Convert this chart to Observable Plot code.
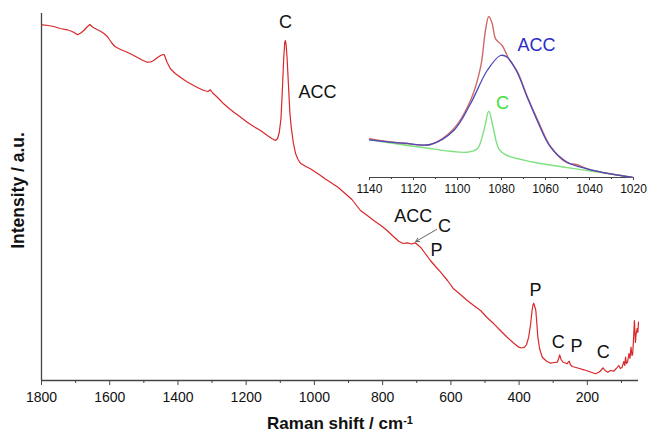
<!DOCTYPE html>
<html><head><meta charset="utf-8">
<script src="https://cdn.jsdelivr.net/npm/d3@7"></script>
<script src="https://cdn.jsdelivr.net/npm/@observablehq/plot@0.6"></script>
<style>
body{margin:0;background:#fff;}
#wrap{position:relative;width:649px;height:434px;font-family:"Liberation Sans",Arial,sans-serif;}
#wrap svg{position:absolute;left:0;top:0;}
</style></head><body><div id="wrap"></div>
<script>
// Main spectrum (Raman shift, cm-1) and intensity (a.u.)
const mainShift = [1798,1780,1764,1745,1725,1710,1700,1694,1685,1676,1665,1658,1652,1647,1637,1627,1617,1607,1595,1585,1578,1565,1549,1535,1520,1505,1490,1480,1471,1460,1451,1444,1440,1435,1432,1422,1408,1393,1375,1354,1340,1324,1312,1305,1298,1290,1278,1266,1250,1236,1215,1197,1178,1158,1138,1125,1114,1108,1103,1098,1094,1090,1087,1085,1083,1080,1076,1072,1068,1062,1055,1048,1041,1025,1012,995,982,968,953,930,910,890,865,845,826,805,787,770,753,740,728,716,704,697,689,675,660,645,630,610,592,572,552,533,513,494,474,455,435,418,401,392,384,378,372,366,362,359,357,355,351,348,345,340,332,320,308,296,288,284,281,277,271,265,259,255,253,250,244,228,210,195,176,165,158,154,148,140,132,123,115,108,103,98,93,90,88,85,82,78,75,72,69,67,64,62,59,57,54,52,50];
const mainIntensity = [355.7,355,354,352,350.7,349,347,345.7,347.5,350,354,356,354,352.7,351,349.3,347,344,338,334,332.7,330.5,328.3,326,323.3,320.5,318.3,318.5,320,323,325,326,325.7,321,318.3,311.7,307,303.3,299,295,292.5,290,289,290.7,287.5,285,281,276.7,272,268.3,263,258.3,254,250,245,242,240,242,248,262,290,322,338,340,336,322,295,268,253.3,238,226.7,221,217.3,214,211.7,208,205,201.5,198.3,193,187,181,170,165,160,155,150,144.5,139.3,137,137.7,136.5,137.7,135.5,133.3,127,120,114,108.3,100,91.7,86,80,75,70,63,56.7,50,43.3,38,33.3,32.5,33.3,36,43.3,57,70,76,77.3,75,70,57,43.3,32,23.3,19.5,17.3,18,18.3,22,25.7,21,18.3,17.5,16.7,19,19.3,16,14,12.5,10.7,9,6.7,8.5,11,12.7,10,8.3,10,9.3,12,15,12,13.3,19,15,23.3,17,18.3,27,22,33.3,25,26.7,45,60,38,46.7,52,48,58.3];

// Peak labels on main spectrum
const labelText = ["C","ACC","ACC","C","P","P","C","P","C"];
const labelShift = [1085,991,710,619,642,352,285,232,153];
const labelIntensity = [358,288,164,154,130,90,38,34,28];

// Arrow from "C" label to the shoulder
const arrowData = [{x1:642,y1:151,x2:703,y2:139}];

// Inset: measured (red), fit ACC (blue), C component (green)
const insetRedShift = [1140,1132,1124.4,1112.3,1101.7,1094.1,1089.5,1087.3,1085.8,1084.2,1082.7,1079.7,1076.7,1072.9,1068.3,1063.8,1057.7,1050.1,1046,1041,1030.5,1020.6];
const insetRedI = [38.7,36,34.3,33,48.7,77,110.3,147,161,153.7,138.7,132,118.7,106.3,81,58.7,31,14.5,13,8.7,3.7,0.3];
const insetBlueShift = [1140,1124.4,1112.3,1101.7,1094.1,1086.5,1080.5,1077.4,1072.9,1068.3,1063.8,1057.7,1050.1,1041,1030.5,1020.6];
const insetBlueI = [37.7,34.3,33,47,73.7,107,122,120.3,105.3,80.3,57,30.3,15.3,8.7,3.7,0.3];
const insetGreenShift = [1140,1116.8,1095.6,1091,1088,1085.8,1083.8,1081.2,1077.4,1065.3,1041,1022.9];
const insetGreenI = [37.7,30.3,25.3,28.7,47,66.3,50.3,28.7,22,15.3,7,1];
const insetLabelText = ["ACC","C"];
const insetLabelShift = [1064.1,1079.5];
const insetLabelI = [132,74];
const insetLabelColor = ["#2b2bc4","#3ee03e"];

const font = "Liberation Sans, Arial, sans-serif";
const mainData = mainShift.map((x,i)=>({x, y:mainIntensity[i]}));
const labels = labelText.map((t,i)=>({t, x:labelShift[i], y:labelIntensity[i]}));

const main = Plot.plot({
  width:649, height:434, marginLeft:41, marginRight:11, marginTop:13, marginBottom:54,
  style:{fontFamily:font, background:"transparent", color:"#111", overflow:"visible"},
  x:{domain:[1800,50]},
  y:{domain:[0,367], axis:null},
  marks:[
    Plot.axisX({ticks:d3.range(200,1801,200), tickSize:5, tickPadding:7, fontSize:14, label:null, stroke:"#444", tickFormat:d=>String(d)}),
    Plot.axisX({ticks:d3.range(100,1800,200), tickSize:3, label:null, stroke:"#444", tickFormat:()=>""}),
    Plot.ruleY([0], {stroke:"#444", strokeWidth:1.3}),
    Plot.ruleX([1800], {stroke:"#444", strokeWidth:1.3}),
    Plot.line(mainData, {x:"x", y:"y", stroke:"#d8282a", strokeWidth:1.2}),
    Plot.text(labels, {x:"x", y:"y", text:"t", fontSize:18, fill:"#111"}),
    Plot.arrow(arrowData, {x1:"x1", y1:"y1", x2:"x2", y2:"y2", stroke:"#666", strokeWidth:1, headLength:6}),
    Plot.text(["Raman shift / cm-1"], {text:d=>d, frameAnchor:"bottom", textAnchor:"middle", lineAnchor:"middle", dy:43.5, fontWeight:"bold", fontSize:17, fill:"#111"}),
    Plot.text(["Intensity / a.u."], {text:d=>d, frameAnchor:"left", textAnchor:"middle", lineAnchor:"middle", dx:-23, dy:-6.5, rotate:-90, fontWeight:"bold", fontSize:17.5, fill:"#111"})
  ]
});
d3.select(main).selectAll("text").filter(function(){return this.textContent==="Raman shift / cm-1";}).each(function(){
  const t=d3.select(this); t.text("Raman shift / cm");
  t.append("tspan").attr("dy","-0.5em").attr("font-size","11px").text("-1");
});

const red = insetRedShift.map((x,i)=>({x,y:insetRedI[i]}));
const blue = insetBlueShift.map((x,i)=>({x,y:insetBlueI[i]}));
const green = insetGreenShift.map((x,i)=>({x,y:insetGreenI[i]}));
const insetLabels = insetLabelText.map((t,i)=>({t,x:insetLabelShift[i],y:insetLabelI[i],c:insetLabelColor[i]}));

const inset = Plot.plot({
  width:649, height:434, marginLeft:369, marginRight:16, marginTop:10, marginBottom:257,
  style:{fontFamily:font, background:"transparent", color:"#111", overflow:"visible"},
  x:{domain:[1140,1020]},
  y:{domain:[0,167], axis:null},
  marks:[
    Plot.axisX({ticks:d3.range(1020,1141,20), tickSize:3, tickPadding:4, fontSize:12, label:null, stroke:"#444", tickFormat:d=>String(d)}),
    Plot.axisX({ticks:d3.range(1030,1140,20), tickSize:2, label:null, stroke:"#444", tickFormat:()=>""}),
    Plot.ruleY([0], {stroke:"#444", strokeWidth:1}),
    Plot.line(green, {x:"x", y:"y", stroke:"#7fe07f", strokeWidth:1.4, curve:"catmull-rom"}),
    Plot.line(red, {x:"x", y:"y", stroke:"#d06a6a", strokeWidth:1.4, curve:"catmull-rom"}),
    Plot.line(blue, {x:"x", y:"y", stroke:"#4a4ab8", strokeWidth:1.3, curve:"catmull-rom"}),
    Plot.text(insetLabels, {x:"x", y:"y", text:"t", fill:"c", fontSize:18})
  ]
});

const wrap = document.getElementById("wrap");
wrap.appendChild(main);
wrap.appendChild(inset);
</script></body></html>
